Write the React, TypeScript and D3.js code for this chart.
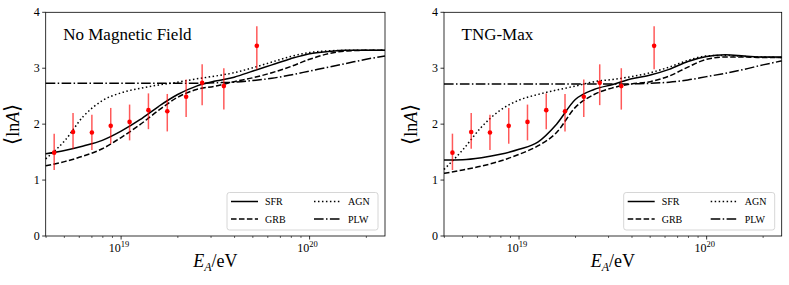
import { useEffect, useRef } from "react";
import * as d3 from "d3";

// log10(E/eV) grid of the model curves
const logE = [18.6, 18.7, 18.8, 18.9, 19.0, 19.1, 19.2, 19.3, 19.4, 19.5, 19.6, 19.7, 19.8, 19.9, 20.0, 20.1, 20.2, 20.3, 20.4];

// No Magnetic Field
const nmfSFR = [1.47, 1.53, 1.61, 1.71, 1.875, 2.08, 2.32, 2.53, 2.68, 2.77, 2.84, 2.95, 3.06, 3.17, 3.26, 3.3, 3.32, 3.32, 3.32];
const nmfGRB = [1.255, 1.33, 1.43, 1.56, 1.76, 1.99, 2.25, 2.48, 2.62, 2.68, 2.76, 2.83, 2.92, 3.03, 3.16, 3.26, 3.31, 3.32, 3.32];
const nmfAGN = [1.38, 1.7, 2.14, 2.42, 2.56, 2.64, 2.7, 2.75, 2.81, 2.86, 2.92, 3.01, 3.11, 3.21, 3.28, 3.31, 3.32, 3.32, 3.32];
const nmfPLW = [2.73, 2.73, 2.73, 2.73, 2.73, 2.73, 2.73, 2.73, 2.73, 2.74, 2.75, 2.78, 2.82, 2.88, 2.95, 3.02, 3.09, 3.16, 3.22];

// TNG-Max
const tngSFR = [1.36, 1.365, 1.4, 1.46, 1.55, 1.68, 2.0, 2.44, 2.62, 2.71, 2.81, 2.88, 2.98, 3.12, 3.21, 3.24, 3.22, 3.2, 3.2];
const tngGRB = [1.12, 1.18, 1.25, 1.34, 1.46, 1.61, 1.85, 2.3, 2.53, 2.65, 2.72, 2.76, 2.86, 3.02, 3.16, 3.2, 3.2, 3.19, 3.19];
const tngAGN = [1.19, 1.54, 1.95, 2.25, 2.43, 2.53, 2.61, 2.68, 2.76, 2.8, 2.85, 2.92, 3.02, 3.14, 3.22, 3.23, 3.21, 3.2, 3.19];
const tngPLW = [2.72, 2.72, 2.72, 2.72, 2.72, 2.72, 2.72, 2.72, 2.72, 2.72, 2.72, 2.73, 2.75, 2.79, 2.85, 2.91, 2.98, 3.06, 3.13];

// measured points
const obsLogE = [18.645, 18.745, 18.845, 18.945, 19.045, 19.145, 19.245, 19.345, 19.43, 19.545, 19.72];
const obsLnA = [1.49, 1.86, 1.85, 1.97, 2.04, 2.25, 2.23, 2.49, 2.74, 2.68, 3.4];
const obsHi = [1.83, 2.2, 2.17, 2.29, 2.35, 2.55, 2.54, 2.8, 3.07, 3.0, 3.75];
const obsLo = [1.18, 1.56, 1.54, 1.65, 1.71, 1.91, 1.87, 2.13, 2.34, 2.26, 2.98];

const yTicks = [0, 1, 2, 3, 4];
const xMajor = [19, 20];
const legendNames = ["SFR", "GRB", "AGN", "PLW"];

const styles: Record<string, string> = {
  SFR: "none",
  GRB: "5.55,2.4",
  AGN: "1.5,2.48",
  PLW: "9.6,2.4,1.5,2.4",
};

const panels = [
  { title: "No Magnetic Field", x0: 45.7, x1: 385, series: [nmfSFR, nmfGRB, nmfAGN, nmfPLW] },
  { title: "TNG-Max", x0: 444, x1: 781.7, series: [tngSFR, tngGRB, tngAGN, tngPLW] },
];

const FONT = "'Times New Roman', 'Liberation Serif', Times, serif";

export default function App() {
  const svgRef = useRef<SVGSVGElement | null>(null);

  useEffect(() => {
    if (!svgRef.current) return;
    const svg = d3.select(svgRef.current);
    svg.selectAll("*").remove();

    const top = 12.3;
    const bottom = 236;

    panels.forEach((p) => {
      const x = d3.scaleLinear().domain([18.6, 20.4]).range([p.x0, p.x1]);
      const y = d3.scaleLinear().domain([0, 4]).range([bottom, top]);
      const g = svg.append("g").attr("font-family", FONT);

      // minor log ticks
      const minor: number[] = [];
      for (let dec = 18; dec <= 20; dec++) {
        for (let m = 2; m <= 9; m++) {
          const v = dec + Math.log10(m);
          if (v > 18.6 && v < 20.4) minor.push(v);
        }
      }
      g.selectAll(".minor")
        .data(minor)
        .enter()
        .append("line")
        .attr("x1", (d) => x(d))
        .attr("x2", (d) => x(d))
        .attr("y1", bottom)
        .attr("y2", bottom + 2)
        .attr("stroke", "#000")
        .attr("stroke-width", 0.6);
      g.selectAll(".major")
        .data(xMajor)
        .enter()
        .append("line")
        .attr("x1", (d) => x(d))
        .attr("x2", (d) => x(d))
        .attr("y1", bottom)
        .attr("y2", bottom + 3.5)
        .attr("stroke", "#000")
        .attr("stroke-width", 0.8);
      const xl = g
        .selectAll(".xl")
        .data(xMajor)
        .enter()
        .append("text")
        .attr("x", (d) => x(d) - 2)
        .attr("y", bottom + 16)
        .attr("text-anchor", "middle")
        .attr("font-size", 12);
      xl.append("tspan").text("10");
      xl.append("tspan")
        .attr("dy", -5)
        .attr("font-size", 8.5)
        .text((d) => String(d));

      // y ticks
      g.selectAll(".yt")
        .data(yTicks)
        .enter()
        .append("line")
        .attr("x1", p.x0 - 3.5)
        .attr("x2", p.x0)
        .attr("y1", (d) => y(d))
        .attr("y2", (d) => y(d))
        .attr("stroke", "#000")
        .attr("stroke-width", 0.8);
      g.selectAll(".yl")
        .data(yTicks)
        .enter()
        .append("text")
        .attr("x", p.x0 - 6)
        .attr("y", (d) => y(d) + 4)
        .attr("text-anchor", "end")
        .attr("font-size", 12)
        .text((d) => String(d));

      // curves
      const line = d3
        .line<number>()
        .x((_, i) => x(logE[i]))
        .y((d) => y(d))
        .curve(d3.curveMonotoneX);
      p.series.forEach((s, i) => {
        g.append("path")
          .attr("d", line(s) as string)
          .attr("fill", "none")
          .attr("stroke", "#000")
          .attr("stroke-width", 1.5)
          .attr("stroke-dasharray", styles[legendNames[i]]);
      });

      // error bars + points
      g.selectAll(".eb")
        .data(obsLnA)
        .enter()
        .append("line")
        .attr("x1", (_, i) => x(obsLogE[i]))
        .attr("x2", (_, i) => x(obsLogE[i]))
        .attr("y1", (_, i) => y(obsLo[i]))
        .attr("y2", (_, i) => y(obsHi[i]))
        .attr("stroke", "red")
        .attr("stroke-opacity", 0.65)
        .attr("stroke-width", 1.5);
      g.selectAll(".pt")
        .data(obsLnA)
        .enter()
        .append("circle")
        .attr("cx", (_, i) => x(obsLogE[i]))
        .attr("cy", (d) => y(d))
        .attr("r", 2.3)
        .attr("fill", "red");

      // frame
      g.append("rect")
        .attr("x", p.x0)
        .attr("y", top)
        .attr("width", p.x1 - p.x0)
        .attr("height", bottom - top)
        .attr("fill", "none")
        .attr("stroke", "#000")
        .attr("stroke-width", 0.8);

      // title
      g.append("text")
        .attr("x", p.x0 + 17.5)
        .attr("y", 40)
        .attr("font-size", 17)
        .text(p.title);

      // legend
      const lx = p.x1 - 158;
      const ly = 192.5;
      g.append("rect")
        .attr("x", lx)
        .attr("y", ly)
        .attr("width", 151)
        .attr("height", 37.5)
        .attr("rx", 2.5)
        .attr("fill", "#fff")
        .attr("fill-opacity", 0.8)
        .attr("stroke", "#ccc")
        .attr("stroke-width", 0.8);
      legendNames.forEach((name, i) => {
        const col = Math.floor(i / 2);
        const row = i % 2;
        const bx = lx + 4 + col * 83;
        const by = ly + 9 + row * 17.5;
        g.append("line")
          .attr("x1", bx)
          .attr("x2", bx + 27)
          .attr("y1", by)
          .attr("y2", by)
          .attr("stroke", "#000")
          .attr("stroke-width", 1.5)
          .attr("stroke-dasharray", styles[name]);
        g.append("text")
          .attr("x", bx + 34)
          .attr("y", by + 3.5)
          .attr("font-size", 10)
          .text(name);
      });

      // axis labels
      const cx = (p.x0 + p.x1) / 2;
      const xt = g
        .append("text")
        .attr("x", cx)
        .attr("y", 267)
        .attr("text-anchor", "middle")
        .attr("font-size", 18);
      xt.append("tspan").attr("font-style", "italic").text("E");
      xt.append("tspan").attr("font-style", "italic").attr("font-size", 12).attr("dy", 4).text("A");
      xt.append("tspan").attr("dy", -4).text("/eV");

      const yt = g
        .append("text")
        .attr("transform", `translate(${p.x0 - 27},${(top + bottom) / 2}) rotate(-90)`)
        .attr("text-anchor", "middle")
        .attr("font-size", 18);
      yt.append("tspan").attr("font-size", 21).text("⟨");
      yt.append("tspan").text("ln");
      yt.append("tspan").attr("font-style", "italic").text("A");
      yt.append("tspan").attr("font-size", 21).text("⟩");
    });
  }, []);

  return (
    <svg
      ref={svgRef}
      width={789}
      height={285}
      style={{ position: "absolute", left: 0, top: 0, background: "#fff" }}
    ></svg>
  );
}
